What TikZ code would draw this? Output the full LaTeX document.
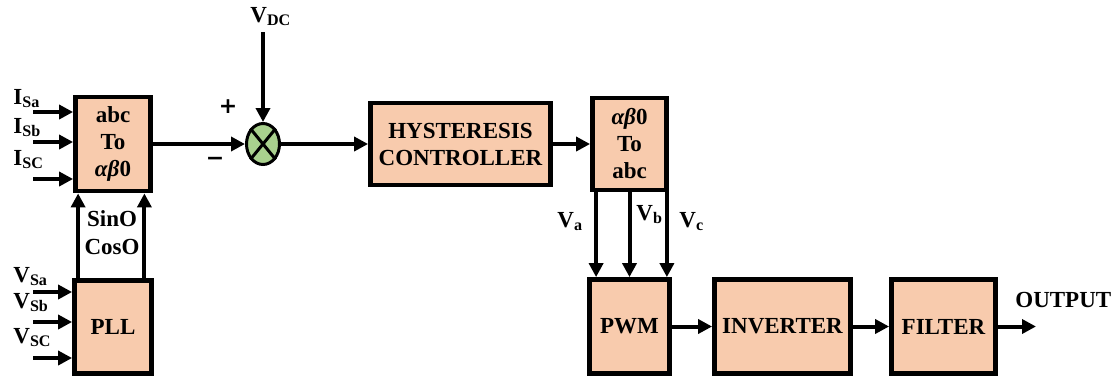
\documentclass[tikz,border=0pt]{standalone}
\usepackage{fontspec}
\setmainfont{Liberation Serif}
\newfontfamily\signfont{DejaVu Sans}
\usetikzlibrary{arrows.meta,positioning,shapes.geometric,calc}
\definecolor{blockfill}{HTML}{F8CBAD}
\definecolor{sumfill}{HTML}{A9D18E}

\begin{document}
\begin{tikzpicture}[
        x=0.5pt, y=-0.5pt,
        font=\bfseries\fontsize{11.5}{13.5}\selectfont,
        block/.style={draw, line width=2.4pt, fill=blockfill, align=center,
                      inner sep=1pt},
        summer/.style={draw, ellipse, line width=1.5pt, fill=sumfill,
                       inner sep=0pt, minimum width=16.5pt, minimum height=20.5pt},
        sig/.style={inner sep=0pt, anchor=base west},
        sign/.style={inner sep=0pt, font=\signfont\bfseries\fontsize{11}{11}\selectfont},
        arrow/.style={-{Triangle[length=7pt,width=7pt]}, line width=2pt}
    ]
        \useasboundingbox (0,0) rectangle (1115,377);

        \node[block, minimum width=37.5pt, minimum height=47pt] (abc) at (113,144)
            {abc\\To\\\textit{αβ}0};
        \node[block, minimum width=38.5pt, minimum height=46.5pt] (pll) at (113,327) {PLL};
        \node[summer] (sum) at (263,144) {};
        \node[block, minimum width=90pt, minimum height=41pt] (hyst) at (460.5,144)
            {HYSTERESIS\\CONTROLLER};
        \node[block, minimum width=37pt, minimum height=46pt] (dq) at (629.5,144)
            {\textit{αβ}0\\To\\abc};
        \node[block, minimum width=40pt, minimum height=47pt] (pwm) at (629.5,326.5) {PWM};
        \node[block, minimum width=68pt, minimum height=47pt] (inv) at (782.5,326.5) {INVERTER};
        \node[block, minimum width=52pt, minimum height=47pt] (filter) at (943.5,326.5) {FILTER};

        % summing junction
        \draw[line width=1.5pt] (sum.north west) -- (sum.south east)
            (sum.north east) -- (sum.south west);
        \node[sign] (plus) at (228,107) {+};
        \node[sign] (minus) at (215,161) {−};

        % signal names
        \node[sig] (lisa) at (13,104) {I\textsubscript{Sa}};
        \node[sig] (lisb) at (13,133) {I\textsubscript{Sb}};
        \node[sig] (lisc) at (13,165) {I\textsubscript{SC}};
        \node[sig] (lvsa) at (13,282) {V\textsubscript{Sa}};
        \node[sig] (lvsb) at (13,308) {V\textsubscript{Sb}};
        \node[sig] (lvsc) at (13,343) {V\textsubscript{SC}};
        \node[sig] (lvdc) at (250,22) {V\textsubscript{DC}};
        \node[sig] (lva) at (557,227) {V\textsubscript{a}};
        \node[sig] (lvb) at (636,220) {V\textsubscript{b}};
        \node[sig] (lvc) at (679,227) {V\textsubscript{c}};
        \node[align=center, inner sep=0pt, font=\bfseries\fontsize{11.5}{14}\selectfont]
            (trig) at (112,233) {SinO\\CosO};
        \node[sig] (lout) at (1015,307) {OUTPUT};

        \coordinate (isa) at (33,112);
        \coordinate (isb) at (33,142);
        \coordinate (isc) at (33,179);
        \coordinate (vsa) at (33,292);
        \coordinate (vsb) at (33,322);
        \coordinate (vsc) at (33,358);
        \coordinate (vdc) at (263,32);
        \coordinate (out) at (1036,326.5);

        \draw[arrow] (isa) -- (abc.west |- isa);
        \draw[arrow] (isb) -- (abc.west |- isb);
        \draw[arrow] (isc) -- (abc.west |- isc);
        \draw[arrow] (vsa) -- (pll.west |- vsa);
        \draw[arrow] (vsb) -- (pll.west |- vsb);
        \draw[arrow] (vsc) -- (pll.west |- vsc);
        \draw[arrow] ([xshift=3pt]pll.north west) -- ([xshift=3pt]pll.north west |- abc.south);
        \draw[arrow] ([xshift=-4.75pt]pll.north east) -- ([xshift=-4.75pt]pll.north east |- abc.south);
        \draw[arrow] (abc.east) -- (sum.west);
        \draw[arrow] (vdc) -- (sum.north);
        \draw[arrow] (sum.east) -- (hyst.west);
        \draw[arrow] (hyst.east) -- (dq.west);
        \draw[arrow] ([xshift=3pt]dq.south west) -- ([xshift=3pt]dq.south west |- pwm.north);
        \draw[arrow] (dq.south) -- (dq.south |- pwm.north);
        \draw[arrow] ([xshift=-1pt]dq.south east) -- ([xshift=-1pt]dq.south east |- pwm.north);
        \draw[arrow] (pwm.east) -- (inv.west);
        \draw[arrow] (inv.east) -- (filter.west);
        \draw[arrow] (filter.east) -- (out);
    \end{tikzpicture}
\end{document}
